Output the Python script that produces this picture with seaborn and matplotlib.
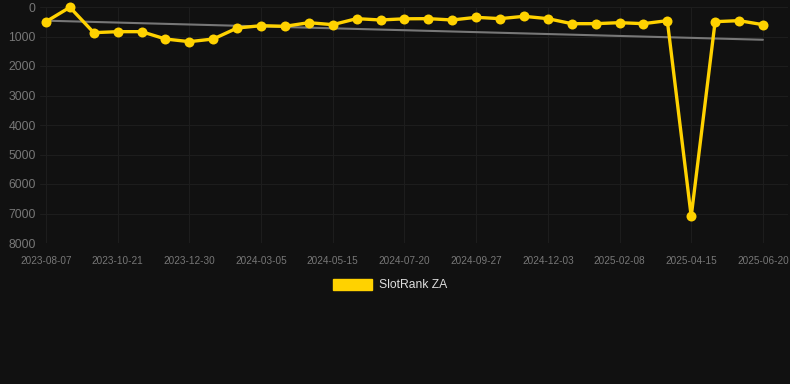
import numpy as np
import pandas as pd
import matplotlib
matplotlib.use("Agg")
import matplotlib.pyplot as plt
import seaborn as sns
from matplotlib.patches import Patch

tick_labels = ["2023-08-07", "2023-10-21", "2023-12-30", "2024-03-05", "2024-05-15",
               "2024-07-20", "2024-09-27", "2024-12-03", "2025-02-08", "2025-04-15",
               "2025-06-20"]
rank = [497, 10, 870, 836, 836, 1085, 1175, 1085, 712, 633, 655, 531, 599, 395, 440,
        400, 395, 440, 350, 395, 316, 395, 565, 565, 531, 565, 463, 7100, 497, 463, 599]
y_ticks = [0, 1000, 2000, 3000, 4000, 5000, 6000, 7000, 8000]
series_name = "SlotRank ZA"

idx = np.arange(len(rank))
df = pd.DataFrame({"idx": idx, "rank": rank})

bg = "#111111"
yellow = "#FFD200"
sns.set_theme(style="dark")
plt.rcParams["font.family"] = ["Liberation Sans", "DejaVu Sans"]

fig = plt.figure(figsize=(7.9, 3.84), dpi=100, facecolor=bg)
ax = fig.add_axes([40/790, 1-243/384, 748/790, 236/384])
ax.set_facecolor(bg)

# trend line (linear fit of the series)
coef = np.polyfit(idx, rank, 1)
trend = np.polyval(coef, idx)
ax.plot(idx, trend, color="#777777", lw=1.5, zorder=2)

sns.lineplot(data=df, x="idx", y="rank", ax=ax, color=yellow, lw=2.4, marker="o",
             markersize=7.2, markeredgewidth=0, legend=False, clip_on=False,
             solid_joinstyle="miter", zorder=3)

ax.set_xlim(-0.25, 31.05)
ax.set_ylim(8000, 0)
ax.set_yticks(y_ticks)
ax.set_yticklabels([str(v) for v in y_ticks])
ax.set_xticks(idx[::3])
ax.set_xticklabels(tick_labels)
ax.tick_params(axis="y", labelsize=8.8, colors="#777777", length=0, pad=3)
ax.tick_params(axis="x", labelsize=7.2, colors="#777777", length=0, pad=9)
ax.grid(True, color="#1d1d1d", lw=0.8)
for s in ax.spines.values():
    s.set_visible(False)
ax.set_xlabel("")
ax.set_ylabel("")

fig.legend(handles=[Patch(facecolor=yellow, edgecolor=yellow)], labels=[series_name],
           loc="center", bbox_to_anchor=(390/790, 1-285/384), frameon=False,
           handlelength=3.2, handleheight=1.1, fontsize=8.7, labelcolor="#dddddd",
           handletextpad=0.55)

fig.savefig("out.png", dpi=100, facecolor=bg)
